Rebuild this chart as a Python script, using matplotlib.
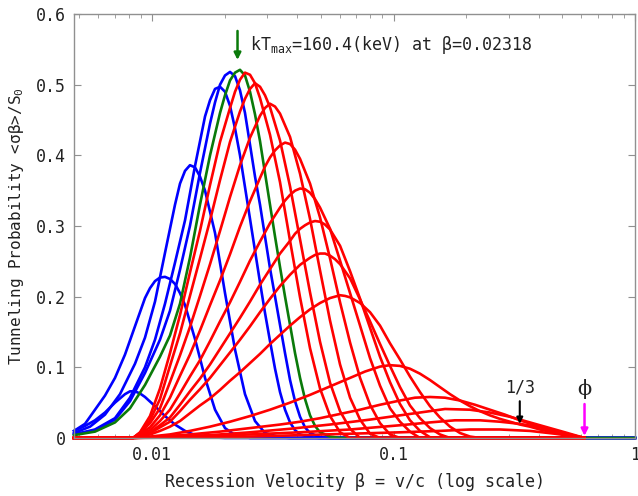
import matplotlib.pyplot as plt
from matplotlib.ticker import NullFormatter

# Values (beta = v/c, probability <sigma beta>/S0)

# blue curves (kT below kT_max)
b1_beta = [0.004754, 0.00528, 0.005808, 0.006388, 0.007027, 0.00773, 0.008107, 0.008502,
           0.008917, 0.009354, 0.01029, 0.01132, 0.01245, 0.0137, 0.01507, 0.01739, 0.02006, 1.0]
b1_p = [0.010, 0.017, 0.025, 0.036, 0.050, 0.062, 0.066, 0.066,
        0.063, 0.058, 0.045, 0.031, 0.019, 0.010, 0.004, 0.001, 0.0, 0.0]

b2_beta = [0.004754, 0.00528, 0.005808, 0.006388, 0.007027, 0.00773, 0.008502, 0.009354, 0.009811,
           0.01029, 0.01079, 0.01132, 0.01187, 0.01245, 0.01306, 0.0137, 0.01507, 0.01658,
           0.01824, 0.02006, 0.02207, 0.02546, 1.0]
b2_p = [0.010, 0.020, 0.040, 0.060, 0.085, 0.118, 0.158, 0.198, 0.212,
        0.222, 0.227, 0.228, 0.225, 0.218, 0.205, 0.188, 0.140, 0.085,
        0.040, 0.014, 0.004, 0.0, 0.0]

b3_beta = [0.004754, 0.005537, 0.006388, 0.00737, 0.008502, 0.009354, 0.01029, 0.01132, 0.01245,
           0.01306, 0.0137, 0.01436, 0.01507, 0.0158, 0.01658, 0.01824, 0.02006, 0.02207, 0.02427,
           0.0267, 0.02937, 0.03389, 0.03729, 1.0]
b3_p = [0.007, 0.016, 0.033, 0.062, 0.105, 0.142, 0.193, 0.262, 0.330,
        0.360, 0.378, 0.386, 0.383, 0.370, 0.350, 0.290, 0.205, 0.125, 0.062,
        0.024, 0.007, 0.001, 0.0, 0.0]

b4_beta = [0.004754, 0.005808, 0.007027, 0.008107, 0.009354, 0.01029, 0.01132, 0.01245, 0.0137,
           0.01507, 0.01658, 0.01739, 0.01824, 0.01913, 0.02006, 0.02104, 0.02207, 0.02314,
           0.02427, 0.02546, 0.0267, 0.02801, 0.02937, 0.03081, 0.03232, 0.03389, 0.03555,
           0.03729, 0.03911, 0.04102, 0.04512, 0.04964, 1.0]
b4_p = [0.005, 0.012, 0.028, 0.057, 0.100, 0.139, 0.190, 0.248, 0.308,
        0.385, 0.455, 0.478, 0.494, 0.497, 0.490, 0.470, 0.438, 0.400,
        0.355, 0.310, 0.265, 0.220, 0.177, 0.137, 0.098, 0.065, 0.040,
        0.022, 0.011, 0.005, 0.001, 0.0, 0.0]

b5_beta = [0.004754, 0.005808, 0.007027, 0.008107, 0.009354, 0.01079, 0.01187, 0.01306, 0.01436,
           0.0158, 0.01739, 0.01824, 0.01913, 0.02006, 0.02104, 0.02207, 0.02314, 0.02427,
           0.02546, 0.0267, 0.02801, 0.02937, 0.03081, 0.03232, 0.03389, 0.03555, 0.03729,
           0.03911, 0.04102, 0.04302, 0.04512, 0.04964, 0.05461, 1.0]
b5_p = [0.005, 0.011, 0.026, 0.052, 0.092, 0.139, 0.180, 0.238, 0.300,
        0.375, 0.445, 0.475, 0.500, 0.513, 0.518, 0.512, 0.492, 0.460,
        0.415, 0.370, 0.330, 0.285, 0.240, 0.200, 0.160, 0.120, 0.082,
        0.052, 0.030, 0.015, 0.007, 0.001, 0.0, 0.0]

# green curve (kT_max)
g_beta = [0.004754, 0.005808, 0.007027, 0.008107, 0.009354, 0.01079, 0.01187, 0.01306, 0.01436,
          0.0158, 0.01739, 0.01913, 0.02006, 0.02104, 0.02207, 0.02314, 0.02427, 0.02546,
          0.0267, 0.02801, 0.02937, 0.03081, 0.03232, 0.03389, 0.03555, 0.03729, 0.03911,
          0.04102, 0.04302, 0.04512, 0.04733, 0.04964, 0.05461, 0.06007, 1.0]
g_p = [0.004, 0.009, 0.022, 0.042, 0.075, 0.115, 0.145, 0.190, 0.255,
       0.330, 0.400, 0.460, 0.485, 0.506, 0.517, 0.521, 0.513, 0.490,
       0.458, 0.420, 0.375, 0.330, 0.285, 0.242, 0.200, 0.160, 0.120,
       0.085, 0.055, 0.032, 0.017, 0.008, 0.002, 0.0, 0.0]

# red curves (kT above kT_max)
r1_beta = [0.004754, 0.008343, 0.008917, 0.009811, 0.01079, 0.01187, 0.01306, 0.01436, 0.0158,
           0.01739, 0.01913, 0.02104, 0.02207, 0.02314, 0.02427, 0.02546, 0.0267, 0.02801,
           0.03081, 0.03389, 0.03729, 0.04102, 0.04512, 0.04964, 0.05461, 0.06007, 0.06609, 0.618]
r1_p = [0.0, 0.0, 0.008, 0.031, 0.070, 0.120, 0.174, 0.234, 0.293,
        0.358, 0.419, 0.467, 0.490, 0.507, 0.517, 0.514, 0.502, 0.481,
        0.429, 0.362, 0.279, 0.199, 0.127, 0.070, 0.031, 0.008, 0.0, 0.0]

r2_beta = [0.004754, 0.008343, 0.008917, 0.009811, 0.01079, 0.01187, 0.01306, 0.01436, 0.0158,
           0.01739, 0.01913, 0.02104, 0.02314, 0.02427, 0.02546, 0.0267, 0.02801, 0.02937,
           0.03081, 0.03389, 0.03729, 0.04102, 0.04512, 0.04964, 0.05461, 0.06007, 0.06609,
           0.0727, 0.618]
r2_p = [0.0, 0.0, 0.007, 0.025, 0.055, 0.102, 0.148, 0.201, 0.254,
        0.308, 0.365, 0.419, 0.462, 0.480, 0.494, 0.502, 0.497, 0.485,
        0.468, 0.421, 0.356, 0.281, 0.206, 0.136, 0.078, 0.038, 0.013,
        0.0, 0.0]

r3_beta = [0.004754, 0.008343, 0.008917, 0.009811, 0.01079, 0.01187, 0.01306, 0.01436, 0.0158,
           0.01739, 0.01913, 0.02104, 0.02314, 0.02546, 0.02801, 0.02937, 0.03081, 0.03232,
           0.03389, 0.03729, 0.04102, 0.04512, 0.04964, 0.05461, 0.06007, 0.06609, 0.0727,
           0.07994, 0.08793, 0.618]
r3_p = [0.0, 0.0, 0.007, 0.021, 0.042, 0.079, 0.117, 0.157, 0.201,
        0.246, 0.293, 0.341, 0.386, 0.425, 0.456, 0.467, 0.473, 0.469,
        0.459, 0.426, 0.374, 0.310, 0.237, 0.166, 0.104, 0.057, 0.026,
        0.006, 0.0, 0.0]

r4_beta = [0.004754, 0.008343, 0.008917, 0.009811, 0.01079, 0.01187, 0.01306, 0.01436, 0.0158,
           0.01739, 0.01913, 0.02104, 0.02314, 0.02546, 0.02801, 0.02937, 0.03081, 0.03232,
           0.03389, 0.03555, 0.03729, 0.03911, 0.04102, 0.04512, 0.04964, 0.05461, 0.06007,
           0.06609, 0.0727, 0.07994, 0.08793, 0.09671, 0.1064, 0.618]
r4_p = [0.0, 0.0, 0.006, 0.015, 0.032, 0.057, 0.088, 0.118, 0.152,
        0.188, 0.223, 0.260, 0.299, 0.335, 0.368, 0.384, 0.397, 0.407,
        0.414, 0.418, 0.416, 0.408, 0.395, 0.360, 0.312, 0.254, 0.192,
        0.135, 0.085, 0.047, 0.021, 0.005, 0.0, 0.0]

r5_beta = [0.004754, 0.008343, 0.008917, 0.009811, 0.01079, 0.01187, 0.01306, 0.01436, 0.0158,
           0.01739, 0.01913, 0.02104, 0.02314, 0.02546, 0.02801, 0.03081, 0.03389, 0.03555,
           0.03729, 0.03911, 0.04102, 0.04302, 0.04512, 0.04733, 0.04964, 0.05461, 0.06007,
           0.06609, 0.0727, 0.07994, 0.08793, 0.09671, 0.1064, 0.117, 0.1287, 0.618]
r5_p = [0.0, 0.0, 0.005, 0.011, 0.024, 0.040, 0.063, 0.087, 0.110,
        0.137, 0.165, 0.192, 0.221, 0.251, 0.278, 0.304, 0.326, 0.336,
        0.344, 0.350, 0.353, 0.352, 0.347, 0.338, 0.326, 0.296, 0.251,
        0.205, 0.159, 0.113, 0.074, 0.042, 0.023, 0.009, 0.0, 0.0]

r6_beta = [0.004754, 0.008343, 0.008917, 0.009811, 0.01079, 0.01187, 0.01306, 0.01436, 0.0158,
           0.01739, 0.01913, 0.02104, 0.02314, 0.02546, 0.02801, 0.03081, 0.03389, 0.03729,
           0.03911, 0.04102, 0.04302, 0.04512, 0.04733, 0.04964, 0.05206, 0.05461, 0.06007,
           0.06609, 0.0727, 0.07994, 0.08793, 0.09671, 0.1064, 0.117, 0.1287, 0.1416, 0.1557,
           0.618]
r6_p = [0.0, 0.0, 0.004, 0.008, 0.018, 0.029, 0.047, 0.066, 0.084,
        0.104, 0.126, 0.148, 0.170, 0.193, 0.217, 0.239, 0.261, 0.279,
        0.289, 0.296, 0.301, 0.305, 0.307, 0.306, 0.302, 0.295, 0.272,
        0.236, 0.197, 0.156, 0.115, 0.079, 0.048, 0.025, 0.010, 0.001, 0.0,
        0.0]

r7_beta = [0.004754, 0.008343, 0.008917, 0.009811, 0.01079, 0.01187, 0.01306, 0.01436, 0.0158,
           0.01739, 0.01913, 0.02104, 0.02314, 0.02546, 0.02801, 0.03081, 0.03389, 0.03729,
           0.04102, 0.04302, 0.04512, 0.04733, 0.04964, 0.05206, 0.05461, 0.05727, 0.06007,
           0.06609, 0.0727, 0.07994, 0.08793, 0.09671, 0.1064, 0.117, 0.1287, 0.1416, 0.1557,
           0.1714, 0.618]
r7_p = [0.0, 0.0, 0.003, 0.007, 0.015, 0.023, 0.038, 0.054, 0.069,
        0.085, 0.103, 0.121, 0.139, 0.158, 0.178, 0.197, 0.215, 0.231,
        0.245, 0.250, 0.255, 0.259, 0.261, 0.261, 0.258, 0.253, 0.246,
        0.226, 0.196, 0.165, 0.133, 0.102, 0.072, 0.046, 0.028, 0.014, 0.005,
        0.0, 0.0]

r8_beta = [0.004754, 0.008343, 0.008917, 0.009811, 0.01079, 0.01187, 0.01306, 0.01436, 0.0158,
           0.01739, 0.01913, 0.02104, 0.02314, 0.02546, 0.02801, 0.03081, 0.03389, 0.03729,
           0.04102, 0.04512, 0.04964, 0.05461, 0.05727, 0.06007, 0.06301, 0.06609, 0.0727,
           0.07994, 0.08793, 0.09671, 0.1064, 0.117, 0.1287, 0.1416, 0.1557, 0.1714, 0.1885,
           0.2073, 0.228, 0.618]
r8_p = [0.0, 0.0, 0.002, 0.005, 0.010, 0.016, 0.024, 0.035, 0.046,
        0.056, 0.068, 0.081, 0.093, 0.106, 0.119, 0.133, 0.146, 0.159,
        0.171, 0.182, 0.191, 0.198, 0.200, 0.202, 0.201, 0.199, 0.191,
        0.178, 0.159, 0.134, 0.111, 0.087, 0.065, 0.045, 0.029, 0.016, 0.007,
        0.002, 0.0, 0.0]

r9_beta = [0.004754, 0.008343, 0.009811, 0.01187, 0.01436, 0.01739, 0.02104, 0.02546, 0.03081,
           0.03729, 0.04512, 0.05461, 0.06609, 0.07621, 0.08793, 0.09671, 0.1064, 0.117,
           0.1287, 0.1416, 0.1557, 0.1714, 0.1885, 0.2073, 0.228, 0.2508, 0.2759, 0.3035,
           0.3338, 0.3672, 0.4039, 0.4443, 0.4887, 0.5376, 0.618]
r9_p = [0.0, 0.0, 0.002, 0.005, 0.010, 0.016, 0.023, 0.031, 0.040,
        0.050, 0.061, 0.073, 0.085, 0.094, 0.101, 0.103, 0.102, 0.098,
        0.091, 0.082, 0.072, 0.062, 0.053, 0.045, 0.038, 0.032, 0.027, 0.023,
        0.019, 0.016, 0.012, 0.009, 0.006, 0.003, 0.0]

r10_beta = [0.004754, 0.008343, 0.01079, 0.01436, 0.01913, 0.02546, 0.03389, 0.04102, 0.04964,
            0.06007, 0.0727, 0.08793, 0.1064, 0.1227, 0.1416, 0.1634, 0.1885, 0.2175,
            0.2508, 0.2895, 0.3338, 0.3854, 0.4443, 0.513, 0.618]
r10_p = [0.0, 0.0, 0.002, 0.005, 0.009, 0.014, 0.019, 0.023, 0.028,
         0.034, 0.040, 0.047, 0.053, 0.057, 0.058, 0.057, 0.053, 0.047,
         0.040, 0.033, 0.025, 0.018, 0.012, 0.006, 0.0]

r11_beta = [0.004754, 0.008343, 0.01187, 0.01739, 0.02546, 0.03729, 0.05461, 0.07994, 0.1064,
            0.1287, 0.1634, 0.2073, 0.2508, 0.3035, 0.3672, 0.4443, 0.513, 0.618]
r11_p = [0.0, 0.0, 0.002, 0.004, 0.008, 0.013, 0.019, 0.026, 0.032,
         0.036, 0.041, 0.040, 0.036, 0.030, 0.022, 0.014, 0.008, 0.0]

r12_beta = [0.004754, 0.008343, 0.01436, 0.02546, 0.04102, 0.06609, 0.1064, 0.1416, 0.1797,
            0.228, 0.2759, 0.3338, 0.4039, 0.4887, 0.618]
r12_p = [0.0, 0.0, 0.002, 0.005, 0.008, 0.012, 0.018, 0.022, 0.025,
         0.025, 0.023, 0.020, 0.015, 0.008, 0.0]

r13_beta = [0.004754, 0.008343, 0.02546, 0.04102, 0.06609, 0.1064, 0.1557, 0.2073, 0.2759,
            0.3672, 0.4664, 0.618]
r13_p = [0.0, 0.0, 0.002, 0.004, 0.006, 0.008, 0.010, 0.012, 0.012,
         0.010, 0.006, 0.0]

beta_at_max = 0.0226      # where the green arrow points
phi = 0.618
one_third = 1 / 3

blue_curves = [(b1_beta, b1_p), (b2_beta, b2_p), (b3_beta, b3_p), (b4_beta, b4_p), (b5_beta, b5_p)]
red_curves = [(r1_beta, r1_p), (r2_beta, r2_p), (r3_beta, r3_p), (r4_beta, r4_p),
              (r5_beta, r5_p), (r6_beta, r6_p), (r7_beta, r7_p), (r8_beta, r8_p),
              (r9_beta, r9_p), (r10_beta, r10_p), (r11_beta, r11_p), (r12_beta, r12_p),
              (r13_beta, r13_p)]

plt.rcParams['font.family'] = ['DejaVu Sans Mono', 'DejaVu Sans']
plt.rcParams['mathtext.fontset'] = 'custom'
plt.rcParams['mathtext.rm'] = 'DejaVu Sans Mono'
plt.rcParams['mathtext.it'] = 'DejaVu Sans Mono'

fig = plt.figure(figsize=(6.38, 4.96), dpi=100)
ax = fig.add_axes([0.116, 0.117, 0.8793, 0.8548])

lw = 1.9
for beta, p in blue_curves:
    ax.plot(beta, p, color='#0000ff', lw=lw, solid_joinstyle='round', clip_on=False)
ax.plot(g_beta, g_p, color='#0a7a0a', lw=lw, solid_joinstyle='round', clip_on=False)
for beta, p in red_curves:
    ax.plot(beta, p, color='#ff0000', lw=lw, solid_joinstyle='round', clip_on=False)

# Axes, ticks.
ax.set_xscale('log')
ax.set_xlim(0.004754, 1.0)
ax.set_ylim(0, 0.6)
ax.set_xticks([0.01, 0.1, 1])
ax.set_xticklabels(['0.01', '0.1', '1'])
ax.xaxis.set_minor_formatter(NullFormatter())
ax.set_yticks([0, 0.1, 0.2, 0.3, 0.4, 0.5, 0.6])
ax.set_yticklabels(['0', '0.1', '0.2', '0.3', '0.4', '0.5', '0.6'])
ax.tick_params(which='both', direction='in', top=True, right=True,
               colors='#909090', labelcolor='#222222', labelsize=12)
ax.tick_params(which='major', length=5, pad=6)
ax.tick_params(which='minor', length=3)
for s in ax.spines.values():
    s.set_color('#909090')
    s.set_linewidth(1.0)

ax.set_xlabel('Recession Velocity β = v/c (log scale)', fontsize=12, color='#222222', labelpad=6)
ax.set_ylabel('Tunneling Probability <σβ>/S$_0$', fontsize=11.5, color='#222222', labelpad=7)

# Annotations.
ax.annotate('', xy=(beta_at_max, 0.535), xytext=(beta_at_max, 0.576),
            arrowprops=dict(arrowstyle='-|>', color='#0a7a0a', lw=1.8,
                            mutation_scale=10, shrinkA=0, shrinkB=0))
ax.text(0.0255, 0.556, r'kT$_{\mathrm{max}}$=160.4(keV) at β=0.02318',
        fontsize=12, color='#222222', va='center', ha='left')

ax.text(one_third, 0.071, '1/3', fontsize=12, color='#222222', ha='center', va='center')
ax.annotate('', xy=(one_third, 0.020), xytext=(one_third, 0.052),
            arrowprops=dict(arrowstyle='-|>', color='black', lw=1.5,
                            mutation_scale=9, shrinkA=0, shrinkB=0))

ax.text(phi, 0.069, 'ϕ', family=['DejaVu Serif'], fontsize=15, color='#222222',
        ha='center', va='center')
ax.annotate('', xy=(phi, 0.003), xytext=(phi, 0.048),
            arrowprops=dict(arrowstyle='-|>', color='#ff00ff', lw=1.8,
                            mutation_scale=10, shrinkA=0, shrinkB=0))

plt.savefig('out.png', dpi=100)
